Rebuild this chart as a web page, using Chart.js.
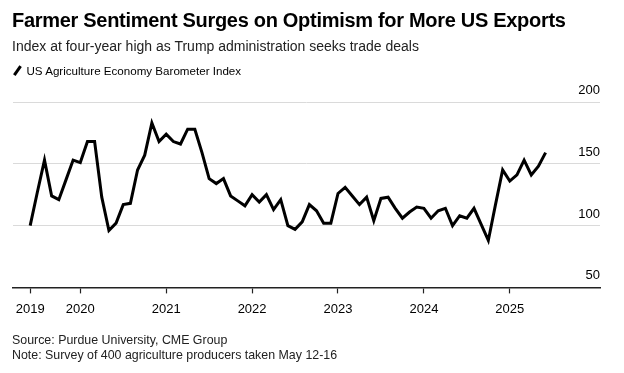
<!DOCTYPE html>
<html>
<head>
<meta charset="utf-8">
<script src="https://cdn.jsdelivr.net/npm/chart.js@4.4.1/dist/chart.umd.min.js"></script>
<style>
  body { margin: 0; background: #fff; font-family: "Liberation Sans", Arial, sans-serif; }
  #wrap { position: relative; width: 624px; height: 373px; overflow: hidden; }
  .txt { position: absolute; left: 12px; white-space: nowrap; color: #000; }
  #title { top: 9px; font-size: 20px; font-weight: bold; letter-spacing: -0.3px; }
  #subtitle { top: 38px; font-size: 14px; color: #222; }
  #legend { top: 64px; font-size: 11.6px; }
  #legend i { display: inline-block; width: 2.5px; height: 11px; background: #000; transform: rotate(35deg); margin: 0 8px 0 4px; vertical-align: -1px; }
  #source { top: 333px; font-size: 12.4px; color: #222; line-height: 15px; }
  #chartBox { position: absolute; left: 0; top: 0; width: 624px; height: 373px; }
</style>
</head>
<body>
<div id="wrap">
  <div id="chartBox"><canvas id="c"></canvas></div>
  <div class="txt" id="title">Farmer Sentiment Surges on Optimism for More US Exports</div>
  <div class="txt" id="subtitle">Index at four-year high as Trump administration seeks trade deals</div>
  <div class="txt" id="legend"><i></i>US Agriculture Economy Barometer Index</div>
  <div class="txt" id="source">Source: Purdue University, CME Group<br>Note: Survey of 400 agriculture producers taken May 12-16</div>
</div>
<script>
// monthly readings, Jun 2019 .. May 2025
const barometer = [
  100, 127, 153, 124, 121, 137, 153,
  151, 168, 168, 123, 96, 102, 117, 118, 145, 157, 183, 168, 174,
  168, 166, 178, 178, 159, 138, 134, 138, 124, 120, 116,
  125, 119, 125, 113, 121, 100, 97, 103, 117, 112, 102, 102,
  126, 131, 124, 117, 123, 104, 122, 123, 114, 106, 111, 115,
  114, 106, 112, 114, 100, 108, 106, 114, 101, 88, 117, 145,
  136, 141, 153, 141, 148, 159
];
// month index of each year label (index 0 = first reading)
const yearTickPos = [0, 7, 19, 31, 43, 55, 67];
const yearLabels = ["2019", "2020", "2021", "2022", "2023", "2024", "2025"];
const yTicks = [50, 100, 150, 200];

const points = barometer.map((v, i) => ({ x: i, y: v }));

// value labels sit above the gridlines at the right edge
const yLabelPlugin = {
  id: "yLabels",
  afterDraw(chart) {
    const { ctx, chartArea, scales } = chart;
    ctx.save();
    ctx.font = '13px "Liberation Sans", Arial, sans-serif';
    ctx.fillStyle = "#000";
    ctx.textAlign = "right";
    ctx.textBaseline = "alphabetic";
    yTicks.forEach((t) => {
      ctx.fillText(String(t), chartArea.right, scales.y.getPixelForValue(t) - 8);
    });
    ctx.restore();
  },
};

new Chart(document.getElementById("c"), {
  type: "line",
  data: {
    datasets: [
      {
        label: "US Agriculture Economy Barometer Index",
        data: points,
        borderColor: "#000",
        borderWidth: 3,
        pointRadius: 0,
        tension: 0,
        borderJoinStyle: "miter",
      },
    ],
  },
  options: {
    responsive: true,
    maintainAspectRatio: false,
    animation: false,
    layout: { padding: { left: 13, right: 24, top: 102, bottom: 48 } },
    plugins: { legend: { display: false }, tooltip: { enabled: false } },
    scales: {
      x: {
        type: "linear",
        min: -2.4,
        max: 79.6,
        afterBuildTicks: (scale) => {
          scale.ticks = yearTickPos.map((v) => ({ value: v }));
        },
        ticks: {
          autoSkip: false,
          maxRotation: 0,
          padding: 8,
          color: "#000",
          font: { family: "Liberation Sans", size: 13 },
          callback: (v) => yearLabels[yearTickPos.indexOf(v)],
        },
        grid: { drawOnChartArea: false, drawTicks: true, tickLength: 6, tickColor: "#222", tickWidth: 1.2 },
        border: { display: true, color: "#222", width: 1.5 },
      },
      y: {
        min: 50,
        max: 200,
        afterBuildTicks: (scale) => {
          scale.ticks = yTicks.map((v) => ({ value: v }));
        },
        ticks: { display: false },
        grid: { color: "#dadada", lineWidth: 1, drawTicks: false },
        border: { display: false },
      },
    },
  },
  plugins: [yLabelPlugin],
});
</script>
</body>
</html>
